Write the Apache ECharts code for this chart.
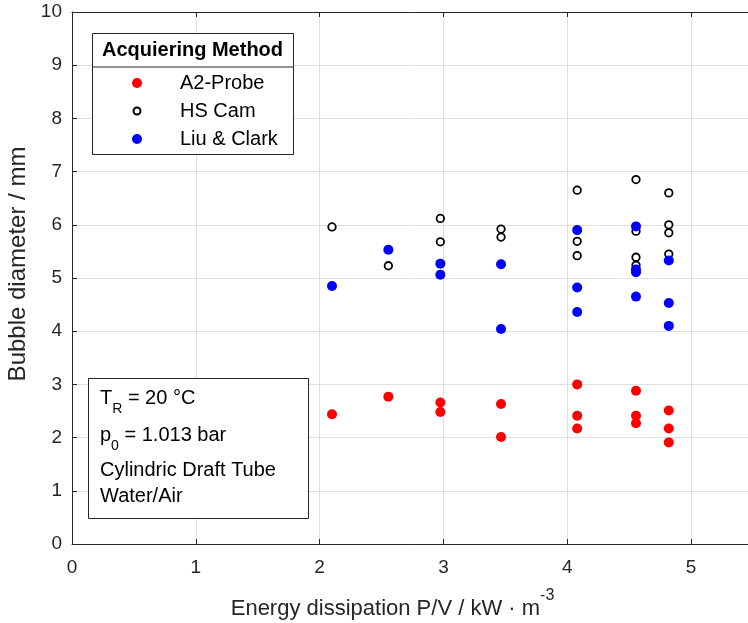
<!DOCTYPE html>
<html>
<head>
<meta charset="utf-8">
<script src="https://cdn.jsdelivr.net/npm/echarts@6/dist/echarts.min.js"></script>
<style>html,body{margin:0;padding:0;background:#fff}#c{width:748px;height:623px}</style>
</head>
<body>
<div id="c"></div>
<script>
// ---- data ----
const seriesNames = ['A2-Probe', 'HS Cam', 'Liu & Clark'];
const xTicks = [0, 1, 2, 3, 4, 5];
const yTicks = [0, 1, 2, 3, 4, 5, 6, 7, 8, 9, 10];
const a2Probe = [
  [2.10, 2.44], [2.555, 2.77], [2.975, 2.66], [2.975, 2.48], [3.465, 2.63], [3.465, 2.01],
  [4.08, 3.00], [4.08, 2.41], [4.08, 2.17], [4.555, 2.88], [4.555, 2.41], [4.555, 2.27],
  [4.82, 2.51], [4.82, 2.17], [4.82, 1.91]
];
const hsCam = [
  [2.10, 5.96], [2.555, 5.23], [2.975, 6.12], [2.975, 5.68], [3.465, 5.92], [3.465, 5.77],
  [4.08, 6.65], [4.08, 5.69], [4.08, 5.42], [4.555, 6.85], [4.555, 5.88], [4.555, 5.39],
  [4.555, 5.24], [4.82, 6.60], [4.82, 6.00], [4.82, 5.85], [4.82, 5.45]
];
const liuClark = [
  [2.10, 4.85], [2.555, 5.53], [2.975, 5.27], [2.975, 5.06], [3.465, 5.26], [3.465, 4.04],
  [4.08, 5.90], [4.08, 4.82], [4.08, 4.36], [4.555, 5.97], [4.555, 5.16], [4.555, 5.11],
  [4.555, 4.65], [4.82, 5.33], [4.82, 4.53], [4.82, 4.10]
];
const legendTitle = 'Acquiering Method';
const noteLines = ['T{sub|R} = 20 °C', 'p{sub|0} = 1.013 bar', 'Cylindric Draft Tube', 'Water/Air'];
const xName = 'Energy dissipation P/V / kW · m{sup|-3}';
const yName = 'Bubble diameter / mm';

// ---- chart ----
const FONT = 'Liberation Sans, Arial, Helvetica, sans-serif';
const AX = '#262626';
const chart = echarts.init(document.getElementById('c'), null, {renderer: 'canvas'});
const axisCommon = {
  type: 'value', interval: 1,
  axisLine: {show: true, onZero: false, lineStyle: {color: AX, width: 1}},
  axisTick: {show: true, inside: true, length: 5, lineStyle: {color: AX}},
};
const noteY = [398, 435, 470, 496];
const smallOpenCircle = 'path://M0,0M10,10M8.5,5A3.5,3.5,0,1,1,1.5,5A3.5,3.5,0,1,1,8.5,5Z';
const option = {
  backgroundColor: '#fff',
  animation: false,
  grid: {left: 72, top: 12, right: -5, bottom: 79, containLabel: false, outerBoundsMode: 'none'},
  xAxis: [
    Object.assign({}, axisCommon, {
      min: 0, max: 5.5, position: 'bottom',
      name: xName, nameLocation: 'middle', nameGap: 44,
      nameTextStyle: {fontFamily: FONT, fontSize: 22, color: AX, padding: [0, 40, 0, 0],
        rich: {sup: {fontFamily: FONT, fontSize: 16, color: AX, padding: [0, 0, 26, 0]}}},
      axisLabel: {show: true, fontFamily: FONT, fontSize: 19, color: AX, margin: 14,
        showMaxLabel: false, formatter: v => xTicks.includes(v) ? String(v) : ''},
      splitLine: {show: true, lineStyle: {color: '#dfdfdf', width: 1}}
    }),
    Object.assign({}, axisCommon, {
      min: 0, max: 5.5, position: 'top', axisLabel: {show: false}, splitLine: {show: false}
    })
  ],
  yAxis: [
    Object.assign({}, axisCommon, {
      min: 0, max: 10, position: 'left',
      name: yName, nameLocation: 'middle', nameGap: 31, nameRotate: 90,
      nameTextStyle: {fontFamily: FONT, fontSize: 24, color: AX, padding: [0, 0, 0, 28]},
      axisLabel: {show: true, fontFamily: FONT, fontSize: 19, color: AX, margin: 10,
        formatter: v => yTicks.includes(v) ? String(v) : ''},
      splitLine: {show: true, lineStyle: {color: '#dfdfdf', width: 1}}
    }),
    Object.assign({}, axisCommon, {
      min: 0, max: 10, position: 'right', axisLabel: {show: false}, splitLine: {show: false}
    })
  ],
  legend: {
    show: true, z: 100, orient: 'vertical', left: 131, top: 73, itemGap: 8,
    itemWidth: 10, itemHeight: 10, icon: 'circle', padding: 0,
    data: [
      {name: seriesNames[0], icon: 'circle'},
      {name: seriesNames[1], icon: smallOpenCircle},
      {name: seriesNames[2], icon: 'circle'}
    ],
    textStyle: {fontFamily: FONT, fontSize: 20, color: '#000', padding: [0, 0, 0, 33]},
    selectedMode: false
  },
  series: [
    {
      name: seriesNames[0], type: 'scatter', data: a2Probe, symbol: 'circle', symbolSize: 10,
      itemStyle: {color: '#ff0000', opacity: 1}, z: 3
    },
    {
      name: seriesNames[1], type: 'scatter', data: hsCam, symbol: 'circle', symbolSize: 7.5,
      itemStyle: {color: '#ffffff', borderColor: '#000000', borderWidth: 1.8, opacity: 1}, z: 4
    },
    {
      name: seriesNames[2], type: 'scatter', data: liuClark, symbol: 'circle', symbolSize: 10,
      itemStyle: {color: '#0000ff', opacity: 1}, z: 5
    }
  ],
  graphic: [
    {type: 'rect', left: 92, top: 33, z: 50, silent: true,
      shape: {width: 201, height: 121}, style: {fill: '#fff', stroke: AX, lineWidth: 1}},
    {type: 'line', z: 51, silent: true, shape: {x1: 92, y1: 67, x2: 293, y2: 67}, style: {stroke: AX, lineWidth: 1}},
    {type: 'text', z: 51, silent: true, x: 192.5, y: 50,
      style: {text: legendTitle, font: 'bold 20px ' + FONT, fill: '#000', align: 'center', verticalAlign: 'middle'}},
    {type: 'rect', left: 88, top: 378, z: 50, silent: true,
      shape: {width: 220, height: 140}, style: {fill: '#fff', stroke: AX, lineWidth: 1}},
  ].concat(noteLines.map((t, i) => ({
    type: 'text', z: 51, silent: true, x: 100, y: noteY[i],
    style: {
      text: t, font: '20px ' + FONT, fill: '#000', align: 'left', verticalAlign: 'middle',
      rich: {sub: {fontFamily: FONT, fontSize: 14, fill: '#000', padding: [22, 0, 0, 0]}}
    }
  })))
};
chart.setOption(option);
</script>
</body>
</html>
